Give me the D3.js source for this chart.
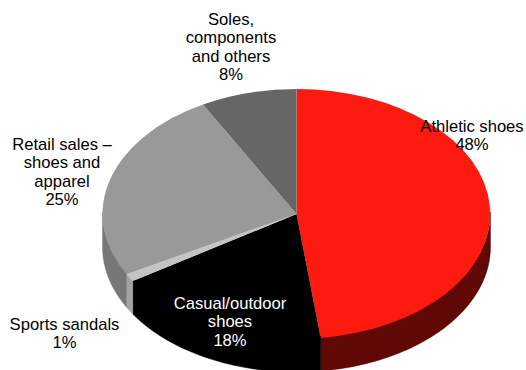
<!DOCTYPE html>
<html>
<head>
<meta charset="utf-8">
<script src="https://cdn.jsdelivr.net/npm/d3@7"></script>
<style>
  html, body { margin: 0; padding: 0; background: #fff; }
  text { font-family: "Liberation Sans", Arial, sans-serif; font-size: 16.6px; }
</style>
</head>
<body>
<svg id="chart" width="526" height="370"></svg>
<script>
// Shoe business revenue split
const categories = ["Athletic shoes", "Casual/outdoor shoes", "Sports sandals", "Retail sales – shoes and apparel", "Soles, components and others"];
const shares = [48, 18, 1, 25, 8];
const topColors = ["#ff1a10", "#000000", "#c4c4c4", "#999999", "#666666"];
const wallColors = ["#600804", "#000000", "#a3a3a3", "#777777", "#4c4c4c"];
const labelLines = [
  ["Athletic shoes", "48%"],
  ["Casual/outdoor", "shoes", "18%"],
  ["Sports sandals", "1%"],
  ["Retail sales –", "shoes and", "apparel", "25%"],
  ["Soles,", "components", "and others", "8%"]
];
const labelAnchors = [[472, 132], [230, 309], [64.5, 330], [62, 150], [231, 25]];
const labelColors = ["#000", "#fff", "#000", "#000", "#000"];

const cx = 296.5, cy = 214, rx = 194, ry = 125, depth = 33;
const svg = d3.select("#chart");

const pie = d3.pie().sort(null).value(d => d).startAngle(0).endAngle(2 * Math.PI);
const slices = pie(shares);

// Outer rim point for a pie angle, measured clockwise from twelve o'clock
const rimX = d3.scaleLinear().domain([-1, 1]).range([cx - rx, cx + rx]);
const rimY = d3.scaleLinear().domain([-1, 1]).range([cy - ry, cy + ry]);
const rim = a => [rimX(Math.sin(a)), rimY(-Math.cos(a))];

// Front walls: only the part of each slice facing the viewer.
// Each wall starts a little above the rim so it tucks under the top face.
const wallLayer = svg.append("g");
slices.forEach((s, i) => {
  const a0 = Math.max(s.startAngle, Math.PI / 2);
  const a1 = Math.min(s.endAngle, 3 * Math.PI / 2);
  if (a1 <= a0) return;
  const angles = d3.range(0, 61).map(k => a0 + (a1 - a0) * k / 60);
  const area = d3.area().x(a => rim(a)[0]).y0(a => rim(a)[1] - 2).y1(a => rim(a)[1] + depth);
  wallLayer.append("path").attr("d", area(angles)).attr("fill", wallColors[i])
    .attr("stroke", wallColors[i]).attr("stroke-width", 0.4);
});

// Top face: unit-radius arcs squashed into an ellipse
const arc = d3.arc().innerRadius(0).outerRadius(1);
const faceLayer = svg.append("g").attr("transform", `translate(${cx},${cy}) scale(${rx},${ry})`);
faceLayer.selectAll("path").data(slices).join("path")
  .attr("d", arc)
  .attr("fill", (d, i) => topColors[i]);

// Multi-line slice labels
const lineHeight = 18.3;
labelLines.forEach((lines, i) => {
  const t = svg.append("text").attr("text-anchor", "middle").attr("fill", labelColors[i]);
  lines.forEach((line, j) => {
    t.append("tspan").attr("x", labelAnchors[i][0]).attr("y", labelAnchors[i][1] + j * lineHeight).text(line);
  });
});
</script>
</body>
</html>
